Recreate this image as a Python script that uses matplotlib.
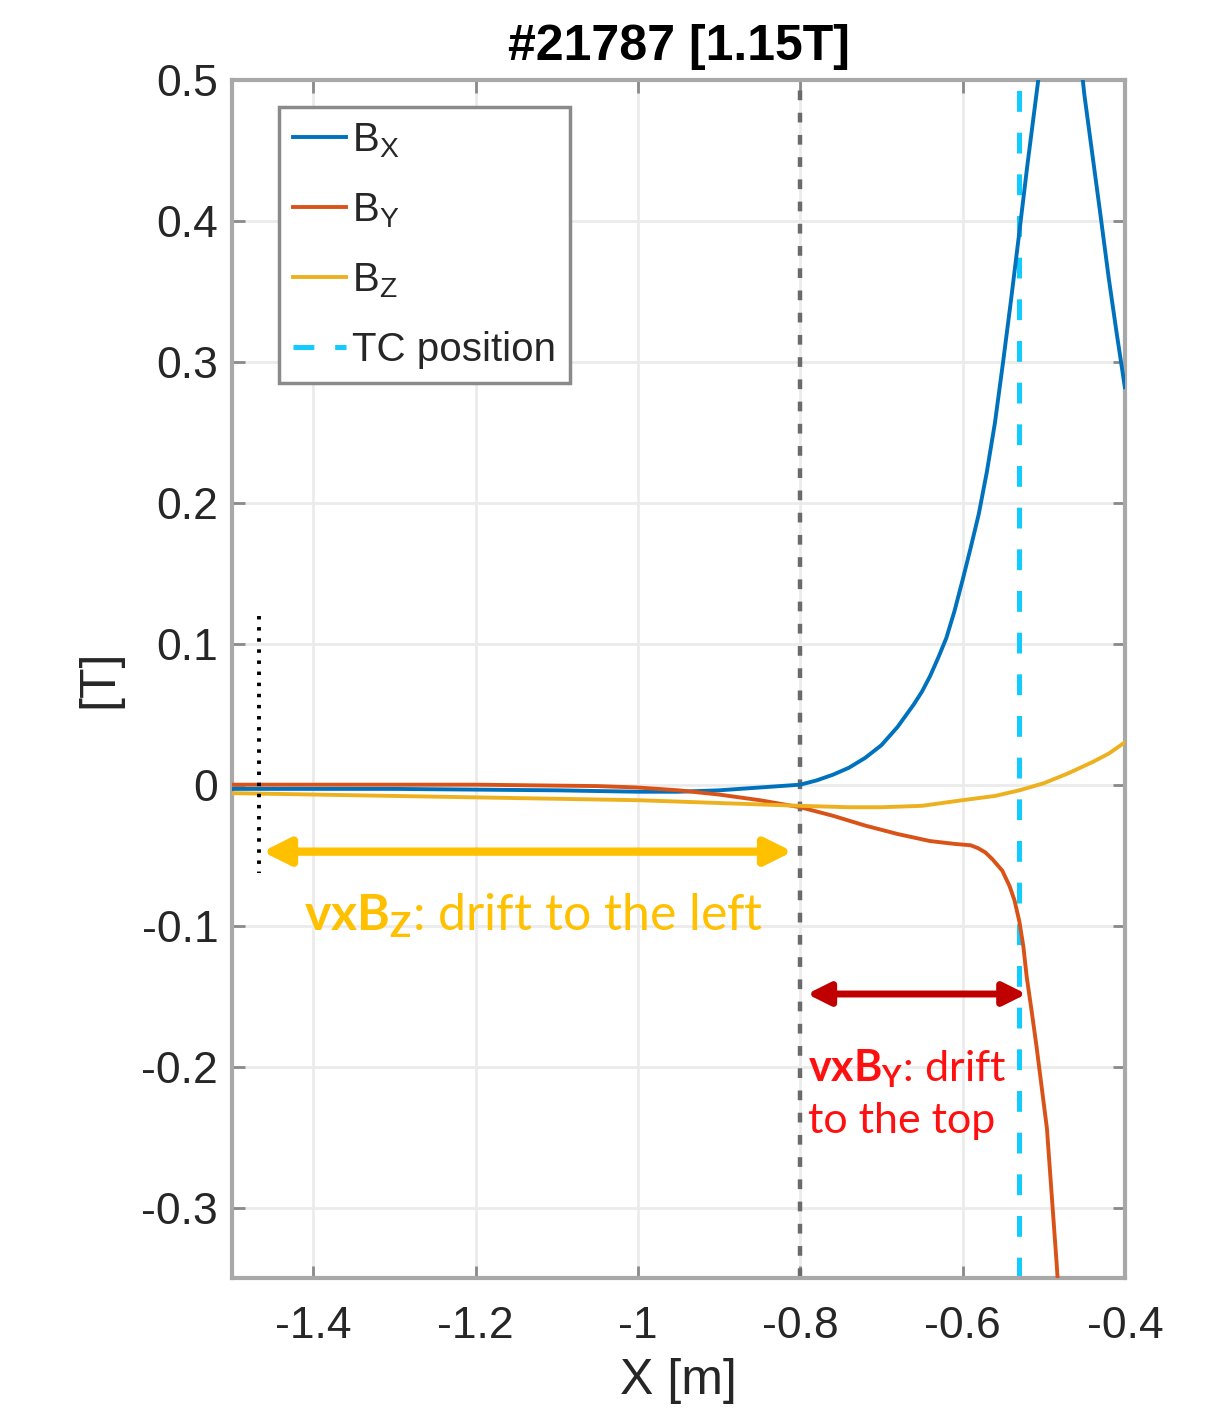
import matplotlib
matplotlib.use('Agg')
import matplotlib.pyplot as plt
from matplotlib.ticker import FixedLocator, FixedFormatter

plt.rcParams['font.family'] = ['Liberation Sans', 'DejaVu Sans']
plt.rcParams['mathtext.fontset'] = 'custom'
plt.rcParams['mathtext.sf'] = 'Liberation Sans'
plt.rcParams['mathtext.rm'] = 'Lato'
plt.rcParams['mathtext.bf'] = 'Lato:bold'
plt.rcParams['lines.scale_dashes'] = False

# field components along X
x_bx = [-1.50, -1.30, -1.10, -1.00, -0.95, -0.90, -0.85, -0.80, -0.78, -0.76, -0.74, -0.72,
        -0.70, -0.68, -0.66, -0.65, -0.64, -0.63, -0.62, -0.61, -0.60, -0.59, -0.58, -0.57,
        -0.56, -0.55, -0.54, -0.53, -0.52, -0.51, -0.50, -0.49, -0.48, -0.47, -0.46, -0.45,
        -0.44, -0.43, -0.42, -0.41, -0.40]
bx = [-0.003, -0.003, -0.004, -0.005, -0.005, -0.004, -0.002, 0.000, 0.003, 0.007, 0.012, 0.019,
      0.028, 0.041, 0.057, 0.066, 0.077, 0.090, 0.104, 0.123, 0.145, 0.168, 0.192, 0.222,
      0.257, 0.300, 0.345, 0.392, 0.440, 0.485, 0.530, 0.565, 0.595, 0.590, 0.545, 0.490,
      0.447, 0.404, 0.360, 0.320, 0.282]

x_by = [-1.50, -1.20, -1.05, -1.00, -0.95, -0.90, -0.85, -0.80, -0.76, -0.72, -0.68,
        -0.64, -0.61, -0.59, -0.581, -0.572, -0.563, -0.551, -0.542, -0.536, -0.530, -0.525,
        -0.521, -0.515, -0.509, -0.496, -0.484, -0.475]
by = [0.000, 0.000, -0.001, -0.002, -0.004, -0.007, -0.011, -0.016, -0.022, -0.029, -0.035,
      -0.040, -0.042, -0.043, -0.045, -0.048, -0.053, -0.061, -0.072, -0.082, -0.097, -0.115,
      -0.136, -0.160, -0.185, -0.244, -0.340, -0.420]

x_bz = [-1.50, -1.30, -1.10, -1.00, -0.90, -0.80, -0.74, -0.70, -0.65, -0.60, -0.56,
        -0.53, -0.50, -0.47, -0.44, -0.42, -0.40]
bz = [-0.006, -0.008, -0.010, -0.011, -0.013, -0.015, -0.016, -0.016, -0.015, -0.011, -0.008,
      -0.004, 0.001, 0.008, 0.016, 0.022, 0.030]

tc_x = -0.531
sep_x = -0.80
xticks = [-1.4, -1.2, -1.0, -0.8, -0.6, -0.4]
xtick_labels = ['-1.4', '-1.2', '-1', '-0.8', '-0.6', '-0.4']
yticks = [-0.3, -0.2, -0.1, 0.0, 0.1, 0.2, 0.3, 0.4, 0.5]
ytick_labels = ['-0.3', '-0.2', '-0.1', '0', '0.1', '0.2', '0.3', '0.4', '0.5']

fig = plt.figure(figsize=(12.28, 14.27), dpi=100)
ax = fig.add_axes([0.189, 0.1044, 0.727, 0.8396])

ax.grid(True, color='#ebebeb', linewidth=2, zorder=0)
l1, = ax.plot(x_bx, bx, color='#0072BD', lw=2.8, label=r'$\mathsf{B_X}$', zorder=3)
l2, = ax.plot(x_by, by, color='#D95319', lw=2.8, label=r'$\mathsf{B_Y}$', zorder=3)
l3, = ax.plot(x_bz, bz, color='#EDB120', lw=2.8, label=r'$\mathsf{B_Z}$', zorder=3)
l4 = ax.axvline(tc_x, color='#12CCFF', lw=3.6, dashes=(15, 15), label='TC position', zorder=2)
ax.axvline(sep_x, color='#6a6a6a', lw=3.2, dashes=(7, 9), zorder=2)
ax.plot([-1.467, -1.467], [0.12, -0.063], color='black', lw=2.8, dashes=(2.5, 5.5), zorder=4)

# drift arrows
ax.annotate('', xy=(-1.466, -0.0475), xytext=(-0.806, -0.0475),
            arrowprops=dict(arrowstyle='<|-|>', color='#FFC000', lw=6, mutation_scale=40), zorder=5)
ax.annotate('', xy=(-0.795, -0.1485), xytext=(-0.518, -0.1485),
            arrowprops=dict(arrowstyle='<|-|>', color='#C00000', lw=5, mutation_scale=34), zorder=5)

ax.text(-1.412, -0.093, r'$\mathbf{vxB_Z}$: drift to the left', color='#FFC000',
        fontsize=36, family='Lato', va='center', ha='left')
ax.text(-0.79, -0.219, r'$\mathbf{vxB_Y}$: drift' + '\nto the top', color='#FF1010',
        fontsize=31, family='Lato', va='center', ha='left', linespacing=1.4)

ax.set_xlim(-1.5, -0.4)
ax.set_ylim(-0.35, 0.5)
ax.xaxis.set_major_locator(FixedLocator(xticks))
ax.xaxis.set_major_formatter(FixedFormatter(xtick_labels))
ax.yaxis.set_major_locator(FixedLocator(yticks))
ax.yaxis.set_major_formatter(FixedFormatter(ytick_labels))
ax.tick_params(direction='in', length=9, width=2, color='#8a8a8a', labelsize=32,
               labelcolor='#262626', top=True, right=True)
ax.tick_params(axis='x', pad=20)
ax.tick_params(axis='y', pad=10)
for s in ax.spines.values():
    s.set_color('#a8a8a8')
    s.set_linewidth(3)

ax.set_xlabel('X [m]', fontsize=36, color='#262626', labelpad=8)
ax.set_ylabel('[T]', fontsize=36, color='#262626', labelpad=14)
ax.set_title('#21787 [1.15T]', fontsize=36, fontweight='bold', pad=14)

leg = ax.legend(handles=[l1, l2, l3, l4], loc='upper left', bbox_to_anchor=(0.0526, 0.9775),
                borderaxespad=0, fontsize=29, handlelength=1.3, handletextpad=0.15,
                labelspacing=0.78, borderpad=0.35, fancybox=False, framealpha=1,
                edgecolor='#8a8a8a')
leg.get_frame().set_linewidth(2.5)
for t in leg.get_texts():
    t.set_color('#262626')

fig.savefig('out.png', dpi=100)
